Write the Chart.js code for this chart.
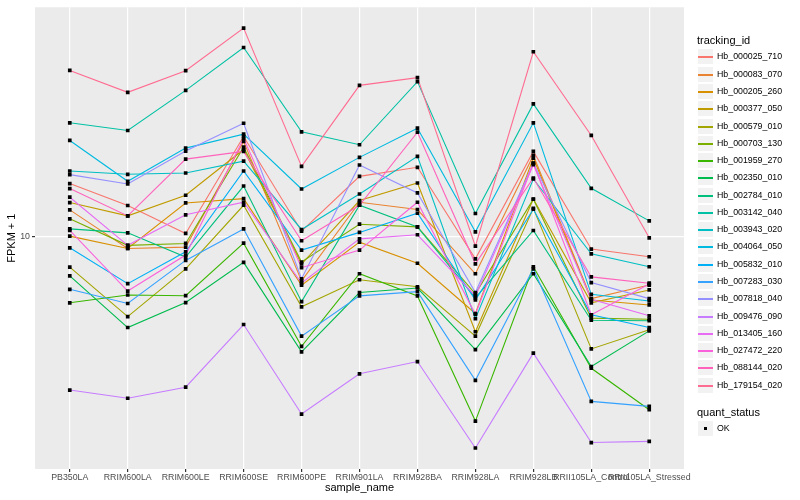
<!DOCTYPE html>
<html lang="en">
<head>
<meta charset="utf-8">
<title>FPKM + 1 by sample</title>
<script src="https://cdn.jsdelivr.net/npm/chart.js@4.4.1/dist/chart.umd.min.js"></script>
<style>
  html, body { margin: 0; padding: 0; background: #fff; }
  #wrap { position: relative; width: 800px; height: 500px; font-family: "Liberation Sans", Arial, sans-serif; }
  #chart { position: absolute; left: 0; top: 0; }
  #legend { position: absolute; left: 697px; top: 0; width: 103px; height: 500px; }
  .ttl { position: absolute; left: 0; font-size: 11px; line-height: 13px; color: #000; white-space: nowrap; }
  .row { position: absolute; left: 0; width: 103px; height: 17px; }
  .key { position: absolute; left: 0; top: 0; width: 17px; height: 17px; background: #F2F2F2;
         border: 1px solid #fff; box-sizing: border-box; }
  .key i { position: absolute; left: 0; right: 0; top: 7px; height: 2px; }
  .key b { position: absolute; left: 6px; top: 6px; width: 3px; height: 3px; background: #000; }
  .lbl { position: absolute; left: 20px; top: 0; line-height: 17px; font-size: 8.8px; color: #000; white-space: nowrap; }
</style>
</head>
<body>
<div id="wrap">
  <canvas id="chart" width="800" height="500"></canvas>
  <div id="legend"></div>
</div>

<script>
// categories on the x axis
const sampleNames = ['PB350LA', 'RRIM600LA', 'RRIM600LE', 'RRIM600SE', 'RRIM600PE', 'RRIM901LA',
  'RRIM928BA', 'RRIM928LA', 'RRIM928LB', 'RRII105LA_Control', 'RRII105LA_Stressed'];

const trackingIds = ['Hb_000025_710', 'Hb_000083_070', 'Hb_000205_260', 'Hb_000377_050', 'Hb_000579_010',
  'Hb_000703_130', 'Hb_001959_270', 'Hb_002350_010', 'Hb_002784_010', 'Hb_003142_040',
  'Hb_003943_020', 'Hb_004064_050', 'Hb_005832_010', 'Hb_007283_030', 'Hb_007818_040',
  'Hb_009476_090', 'Hb_013405_160', 'Hb_027472_220', 'Hb_088144_020', 'Hb_179154_020'];

const lineColors = ['#F8766D', '#EA8331', '#D89000', '#C09B00', '#A3A500', '#7CAE00', '#39B600', '#00BB4E',
  '#00BF7D', '#00C1A3', '#00BFC4', '#00BAE0', '#00B0F6', '#35A2FF', '#9590FF', '#C77CFF',
  '#E76BF3', '#FA62DB', '#FF62BC', '#FF6C91'];

// FPKM + 1, one value per sample
const hb_000025_710 = [14.15, 12.24, 10.18, 19.31, 10.33, 14.84, 15.75, 8.61, 17.50, 9.18, 8.73];
const hb_000083_070 = [11.89, 9.22, 9.30, 18.68, 7.44, 12.51, 11.92, 7.80, 17.04, 6.62, 7.24];
const hb_000205_260 = [10.00, 9.22, 12.45, 12.81, 7.23, 9.61, 8.36, 6.00, 16.74, 6.56, 6.35];
const hb_000377_050 = [12.48, 11.43, 13.10, 17.72, 8.32, 12.65, 14.20, 5.32, 12.78, 6.44, 7.01];
const hb_000579_010 = [8.15, 5.88, 8.06, 12.26, 6.27, 7.50, 7.16, 5.17, 12.02, 4.75, 5.39];
const hb_000703_130 = [11.21, 9.41, 9.53, 17.99, 8.43, 10.82, 10.63, 6.83, 12.76, 5.82, 5.78];
const hb_001959_270 = [6.44, 6.78, 6.75, 9.55, 4.83, 7.80, 6.74, 2.95, 8.17, 4.18, 3.18];
const hb_002350_010 = [7.69, 5.47, 6.45, 8.41, 4.66, 6.89, 7.10, 4.73, 7.80, 4.23, 5.35];
const hb_002784_010 = [10.49, 10.22, 8.71, 13.92, 6.49, 12.26, 10.63, 6.65, 10.38, 5.74, 5.72];
const hb_003142_040 = [21.13, 20.08, 26.18, 34.74, 19.91, 18.28, 27.73, 11.61, 23.94, 13.71, 11.06];
const hb_003943_020 = [15.37, 15.04, 15.17, 16.41, 10.45, 13.21, 16.93, 5.80, 14.58, 8.90, 8.17];
const hb_004064_050 = [18.81, 14.36, 17.88, 19.60, 13.65, 16.82, 20.39, 10.29, 21.13, 6.81, 6.52];
const hb_005832_010 = [9.26, 7.31, 9.02, 15.37, 9.12, 10.25, 11.63, 6.56, 11.94, 5.95, 5.47];
const hb_007283_030 = [7.04, 6.41, 8.52, 10.49, 5.17, 6.74, 6.93, 3.86, 8.06, 3.36, 3.25];
const hb_007818_040 = [15.01, 14.11, 17.53, 21.07, 7.55, 15.99, 13.30, 6.89, 16.20, 7.36, 6.62];
const hb_009476_090 = [3.62, 3.43, 3.69, 5.58, 3.09, 4.03, 4.37, 2.47, 4.62, 2.56, 2.58];
const hb_013405_160 = [12.93, 9.41, 11.51, 12.51, 7.34, 9.82, 10.09, 6.74, 16.03, 6.59, 5.91];
const hb_027472_220 = [10.38, 6.96, 8.83, 19.05, 8.12, 9.12, 12.51, 5.97, 16.17, 5.95, 7.29];
const hb_088144_020 = [13.69, 11.43, 16.63, 17.50, 9.70, 12.26, 19.86, 8.33, 14.68, 7.64, 7.33];
const hb_179154_020 = [29.86, 25.84, 29.81, 39.48, 15.85, 27.06, 28.47, 9.36, 33.77, 19.44, 9.89];

const fpkm = [hb_000025_710, hb_000083_070, hb_000205_260, hb_000377_050, hb_000579_010,
  hb_000703_130, hb_001959_270, hb_002350_010, hb_002784_010, hb_003142_040,
  hb_003943_020, hb_004064_050, hb_005832_010, hb_007283_030, hb_007818_040,
  hb_009476_090, hb_013405_160, hb_027472_220, hb_088144_020, hb_179154_020];

const yTicks = [10];
const yMin = 2.15, yMax = 45.3;

// gray ggplot panel
const panelBg = {
  id: 'panelBg',
  beforeDraw(chart) {
    const { ctx, chartArea: a } = chart;
    ctx.save();
    ctx.fillStyle = '#fff';
    ctx.fillRect(0, 0, chart.width, chart.height);
    ctx.fillStyle = '#EBEBEB';
    ctx.fillRect(a.left, a.top, a.right - a.left, a.bottom - a.top);
    ctx.restore();
  }
};

const datasets = trackingIds.map((id, i) => ({
  label: id,
  data: fpkm[i].map((v, j) => ({ x: j + 1, y: v })),
  borderColor: lineColors[i],
  borderWidth: 1.1,
  pointRadius: 0,
  fill: false,
  tension: 0,
  order: 100 - i
}));

// points on top of every line
datasets.push({
  label: 'OK',
  type: 'scatter',
  data: fpkm.flatMap(s => s.map((v, j) => ({ x: j + 1, y: v }))),
  pointStyle: 'rect',
  pointRadius: 2.6,
  backgroundColor: '#000',
  borderColor: '#000',
  borderWidth: 0,
  showLine: false,
  order: 0
});

const gridOpts = { color: '#FFFFFF', lineWidth: 1.2, tickLength: 3, tickColor: '#333333' };

new Chart(document.getElementById('chart'), {
  type: 'line',
  data: { datasets: datasets },
  options: {
    responsive: false,
    animation: false,
    devicePixelRatio: 1,
    layout: { padding: { left: 0, right: 116, top: 5, bottom: 0 } },
    plugins: { legend: { display: false }, tooltip: { enabled: false } },
    events: [],
    scales: {
      x: {
        type: 'linear',
        min: 0.4,
        max: 11.6,
        afterBuildTicks: s => { s.ticks = sampleNames.map((n, j) => ({ value: j + 1 })); },
        afterFit: s => { s.height = 31; },
        ticks: {
          callback: v => sampleNames[Math.round(v) - 1],
          autoSkip: false, maxRotation: 0, minRotation: 0,
          color: '#4D4D4D', font: { size: 8.8, family: '"Liberation Sans", Arial, sans-serif' }, padding: 0
        },
        grid: gridOpts,
        border: { display: false },
        title: {
          display: true, text: 'sample_name', color: '#000',
          font: { size: 11, family: '"Liberation Sans", Arial, sans-serif' }, padding: { top: 0, bottom: 5 }
        }
      },
      y: {
        type: 'logarithmic',
        min: yMin,
        max: yMax,
        afterBuildTicks: s => { s.ticks = yTicks.map(v => ({ value: v })); },
        afterFit: s => { s.width = 35; },
        ticks: {
          callback: v => String(v),
          color: '#4D4D4D', font: { size: 8.8, family: '"Liberation Sans", Arial, sans-serif' }, padding: 2
        },
        grid: gridOpts,
        border: { display: false },
        title: {
          display: true, text: 'FPKM + 1', color: '#000',
          font: { size: 11, family: '"Liberation Sans", Arial, sans-serif' }, padding: { top: 5, bottom: 0 }
        }
      }
    }
  },
  plugins: [panelBg]
});

// ggplot-style legend
const legend = document.getElementById('legend');
function addTitle(text, top) {
  const t = document.createElement('div');
  t.className = 'ttl';
  t.style.top = Math.round(top) + 'px';
  t.textContent = text;
  legend.appendChild(t);
}
function addRow(text, top, color, isPoint) {
  const r = document.createElement('div');
  r.className = 'row';
  r.style.top = Math.round(top) + 'px';
  const k = document.createElement('div');
  k.className = 'key';
  const m = document.createElement(isPoint ? 'b' : 'i');
  if (!isPoint) m.style.background = color;
  k.appendChild(m);
  const l = document.createElement('div');
  l.className = 'lbl';
  l.textContent = text;
  r.appendChild(k);
  r.appendChild(l);
  legend.appendChild(r);
}
addTitle('tracking_id', 34);
trackingIds.forEach((id, i) => addRow(id, 48.4 + i * 17.28, lineColors[i], false));
addTitle('quant_status', 405.8);
addRow('OK', 420.4, '#000', true);
</script>
</body>
</html>
